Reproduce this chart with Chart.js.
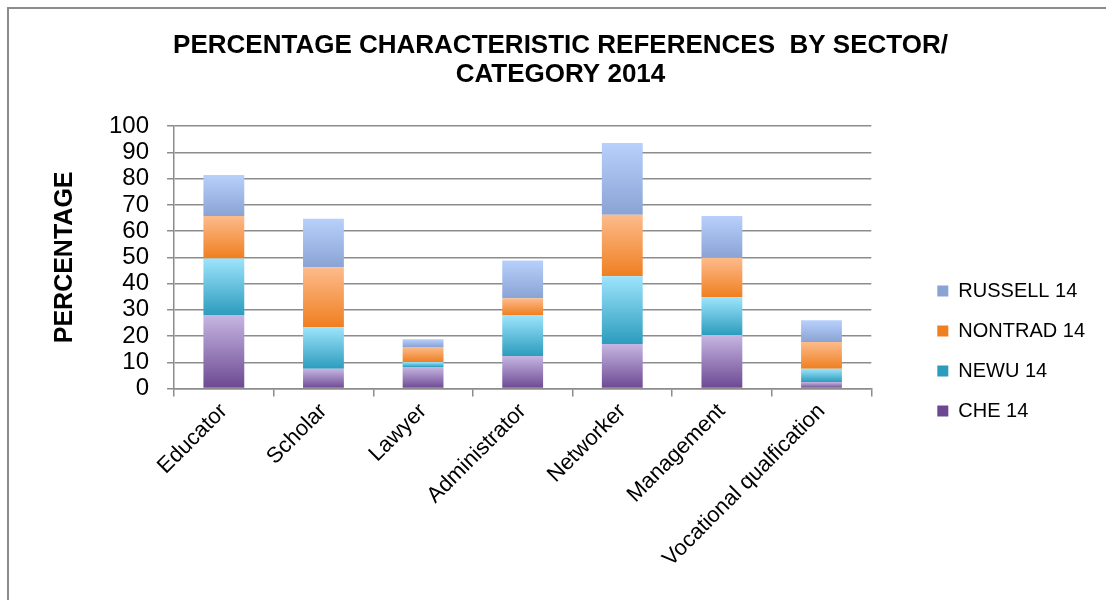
<!DOCTYPE html>
<html>
<head>
<meta charset="utf-8">
<script src="https://cdn.jsdelivr.net/npm/chart.js@4.4.0/dist/chart.umd.min.js"></script>
<style>
  html, body { margin: 0; padding: 0; background: #fff; overflow: hidden; }
  #wrap { position: relative; width: 1106px; height: 600px; overflow: hidden; }
  #frame { position: absolute; left: 7px; top: 7px; width: 1120px; height: 620px;
           border-left: 2px solid #8c8c8c; border-top: 2px solid #8c8c8c; }
  canvas { position: absolute; left: 0; top: 0; }
</style>
</head>
<body>
<div id="wrap">
  <div id="frame"></div>
  <canvas id="chart" width="1106" height="600"></canvas>
</div>
<script>
// categories and values
const categories = ['Educator', 'Scholar', 'Lawyer', 'Administrator', 'Networker', 'Management', 'Vocational qualfication'];
const che14     = [28.0, 7.5, 8.2, 12.4, 17.0, 20.4, 2.5];
const newu14    = [21.6, 15.9, 1.9, 15.6, 25.8, 14.4, 5.0];
const nontrad14 = [16.2, 22.8, 5.7, 6.4, 23.5, 15.1, 10.2];
const russell14 = [15.6, 18.5, 3.0, 14.4, 27.3, 15.9, 8.3];
const yTicks = [0, 10, 20, 30, 40, 50, 60, 70, 80, 90, 100];

const FONT = "'Liberation Sans', Arial, sans-serif";

// vertical gradient on every stacked segment, light on top, dark at the bottom
function segmentFill(topCol, midCol, bottomCol) {
  return function (c) {
    const chart = c.chart;
    const y = chart.scales.y;
    if (c.type !== 'data' || !y) return midCol; // legend box
    let base = 0;
    for (let d = 0; d < c.datasetIndex; d++) base += chart.data.datasets[d].data[c.dataIndex];
    const top = base + c.raw;
    const y0 = y.getPixelForValue(top);
    const y1 = y.getPixelForValue(base);
    if (!isFinite(y0) || !isFinite(y1) || y0 === y1) return midCol;
    const g = chart.ctx.createLinearGradient(0, y0, 0, y1);
    g.addColorStop(0, topCol);
    g.addColorStop(1, bottomCol);
    return g;
  };
}

function makeSet(label, data, topCol, midCol, bottomCol) {
  return {
    label: label,
    data: data,
    backgroundColor: segmentFill(topCol, midCol, bottomCol),
    borderWidth: 0,
    categoryPercentage: 1,
    barPercentage: 0.41
  };
}

const ctx = document.getElementById('chart').getContext('2d');

new Chart(ctx, {
  type: 'bar',
  data: {
    labels: categories,
    datasets: [
      makeSet('CHE 14', che14, '#c6b6e2', '#9a80bb', '#6c4892'),
      makeSet('NEWU 14', newu14, '#9de4fc', '#62c1dc', '#2c9cbd'),
      makeSet('NONTRAD 14', nontrad14, '#fdbb8c', '#f69c55', '#ef7f20'),
      makeSet('RUSSELL 14', russell14, '#b8d0fb', '#a0b9e8', '#89a3d4')
    ]
  },
  options: {
    responsive: false,
    animation: false,
    layout: { padding: { left: 26, right: 11, top: 0, bottom: 26 } },
    plugins: {
      title: {
        display: true,
        text: ['PERCENTAGE CHARACTERISTIC REFERENCES  BY SECTOR/', 'CATEGORY 2014'],
        color: '#000',
        font: { family: FONT, size: 26, weight: 'bold', lineHeight: 1.12 },
        padding: { top: 31, bottom: 37 }
      },
      legend: {
        position: 'right',
        reverse: true,
        title: { display: true, text: ' ', font: { family: FONT, size: 20 }, padding: { top: 104, bottom: 0 } },
        labels: {
          color: '#000',
          font: { family: FONT, size: 20 },
          boxWidth: 11,
          boxHeight: 11,
          padding: 20
        }
      },
      tooltip: { enabled: false }
    },
    scales: {
      x: {
        stacked: true,
        grid: { drawOnChartArea: false, color: '#8c8c8c', tickLength: 8, lineWidth: 1.5 },
        border: { color: '#8c8c8c', width: 1.5 },
        ticks: {
          color: '#000',
          font: { family: FONT, size: 22 },
          minRotation: 45,
          maxRotation: 45,
          padding: 2
        }
      },
      y: {
        stacked: true,
        min: 0,
        max: 100,
        afterBuildTicks: (s) => { s.ticks = yTicks.map(v => ({ value: v })); },
        grid: { color: '#8c8c8c', lineWidth: 1.5, tickLength: 7 },
        border: { color: '#8c8c8c', width: 1.5 },
        ticks: {
          color: '#000',
          font: { family: FONT, size: 24 },
          padding: 18,
          autoSkip: false
        },
        title: {
          display: true,
          text: 'PERCENTAGE',
          color: '#000',
          font: { family: FONT, size: 25, weight: 'bold', lineHeight: 1.2 },
          padding: { top: 24, bottom: 11 }
        }
      },
      // empty axis on the right, only keeps the gap before the legend
      gap: {
        position: 'right',
        display: true,
        grid: { display: false },
        border: { display: false },
        ticks: { display: false },
        afterFit: (s) => { s.width = 46; }
      }
    }
  }
});
</script>
</body>
</html>
